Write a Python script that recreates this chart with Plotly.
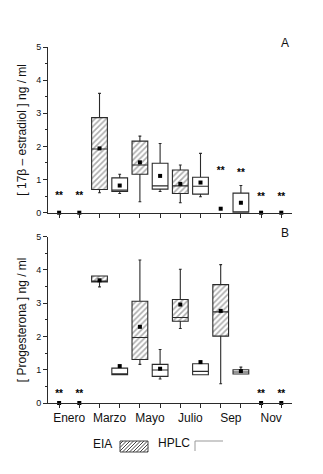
import plotly.graph_objects as go
from plotly.subplots import make_subplots

# ---------------- data ----------------
positions = list(range(1, 13))
label_positions = [1.5, 3.5, 5.5, 7.5, 9.5, 11.5]
month_labels = ["Enero", "Marzo", "Mayo", "Julio", "Sep", "Nov"]

# Panel A: 17beta-estradiol
a_eia_x = [3, 5, 7]
a_eia_q1 = [0.70, 1.16, 0.58]
a_eia_med = [1.92, 1.44, 0.81]
a_eia_q3 = [2.87, 2.16, 1.29]
a_eia_lo = [0.60, 0.33, 0.30]
a_eia_hi = [3.60, 2.31, 1.44]
a_eia_mean = [1.94, 1.52, 0.87]

a_hplc_x = [4, 6, 8, 10]
a_hplc_q1 = [0.64, 0.71, 0.56, 0.0]
a_hplc_med = [0.68, 0.81, 0.80, 0.0]
a_hplc_q3 = [1.05, 1.49, 1.07, 0.59]
a_hplc_lo = [0.58, 0.64, 0.48, 0.0]
a_hplc_hi = [1.16, 2.09, 1.79, 0.82]
a_hplc_mean = [0.82, 1.11, 0.91, 0.30]

a_point_x = [1, 2, 9, 11, 12]
a_point_y = [0.0, 0.0, 0.12, 0.0, 0.0]
a_star_x = [1, 2, 9, 10, 11, 12]
a_star_y = [0.48, 0.48, 1.23, 1.18, 0.45, 0.45]

# Panel B: progesterona
b_eia_x = [3, 5, 7, 9]
b_eia_q1 = [3.64, 1.31, 2.46, 2.01]
b_eia_med = [3.66, 1.97, 2.57, 2.74]
b_eia_q3 = [3.82, 3.06, 3.11, 3.56]
b_eia_lo = [3.49, 1.16, 2.24, 0.58]
b_eia_hi = [3.82, 4.30, 4.02, 4.16]
b_eia_mean = [3.69, 2.29, 2.96, 2.77]

b_hplc_x = [4, 6, 8, 10]
b_hplc_q1 = [0.85, 0.80, 0.85, 0.87]
b_hplc_med = [0.87, 0.99, 0.95, 0.93]
b_hplc_q3 = [1.05, 1.16, 1.18, 1.00]
b_hplc_lo = [0.85, 0.72, 0.85, 0.87]
b_hplc_hi = [1.05, 1.61, 1.18, 1.08]
b_hplc_mean = [1.11, 1.03, 1.23, 0.96]

b_point_x = [1, 2, 11, 12]
b_point_y = [0.0, 0.0, 0.0, 0.0]
b_star_x = [1, 2, 11, 12]
b_star_y = [0.26, 0.26, 0.26, 0.26]

# ---------------- style ----------------
FONT = "Liberation Sans, Arial, sans-serif"
DARK = "#2a2a2a"
BOXW = 0.78

W, H = 323, 474
ML, MR, MT, MB = 48, 31, 47, 71
PW, PH = W - ML - MR, H - MT - MB

fig = make_subplots(rows=2, cols=1)


def add_panel(row, ex, eq1, emed, eq3, elo, ehi, emean,
              hx, hq1, hmed, hq3, hlo, hhi, hmean, px_, py_, sx, sy):
    # hatched background for EIA boxes
    fig.add_trace(go.Bar(
        x=ex, y=[q3 - q1 for q1, q3 in zip(eq1, eq3)], base=eq1, width=BOXW,
        marker=dict(color="white",
                    pattern=dict(shape="/", size=4, solidity=0.4,
                                 fgcolor="#5a5a5a", bgcolor="white"),
                    line=dict(width=0)),
        showlegend=False, hoverinfo="skip"), row=row, col=1)
    # EIA boxes
    fig.add_trace(go.Box(
        x=ex, q1=eq1, median=emed, q3=eq3, lowerfence=elo, upperfence=ehi,
        width=BOXW, whiskerwidth=0.18, fillcolor="rgba(0,0,0,0)",
        line=dict(color=DARK, width=1.1), boxpoints=False,
        showlegend=False), row=row, col=1)
    # HPLC boxes
    fig.add_trace(go.Box(
        x=hx, q1=hq1, median=hmed, q3=hq3, lowerfence=hlo, upperfence=hhi,
        width=BOXW, whiskerwidth=0.18, fillcolor="white",
        line=dict(color=DARK, width=1.1), boxpoints=False,
        showlegend=False), row=row, col=1)
    # means
    fig.add_trace(go.Scatter(
        x=ex + hx + px_, y=emean + hmean + py_, mode="markers",
        marker=dict(symbol="square", size=4, color="black"),
        cliponaxis=False, showlegend=False), row=row, col=1)
    # significance stars
    fig.add_trace(go.Scatter(
        x=sx, y=sy, mode="text", text=["<b>**</b>"] * len(sx),
        textfont=dict(family=FONT, size=10, color="#000000"),
        textposition="middle center", cliponaxis=False,
        showlegend=False), row=row, col=1)


add_panel(1, a_eia_x, a_eia_q1, a_eia_med, a_eia_q3, a_eia_lo, a_eia_hi, a_eia_mean,
          a_hplc_x, a_hplc_q1, a_hplc_med, a_hplc_q3, a_hplc_lo, a_hplc_hi, a_hplc_mean,
          a_point_x, a_point_y, a_star_x, a_star_y)
add_panel(2, b_eia_x, b_eia_q1, b_eia_med, b_eia_q3, b_eia_lo, b_eia_hi, b_eia_mean,
          b_hplc_x, b_hplc_q1, b_hplc_med, b_hplc_q3, b_hplc_lo, b_hplc_hi, b_hplc_mean,
          b_point_x, b_point_y, b_star_x, b_star_y)

# axis domains (pixel based)
yA = [(403 - 212.7) / PH, 1.0]
yB = [0.0, (403 - 236.7) / PH]

xaxis_common = dict(
    range=[0.45, 12.53], tickmode="array", tickvals=label_positions,
    showline=True, linecolor=DARK, linewidth=1, ticks="outside", ticklen=4,
    tickcolor="rgba(0,0,0,0)", showgrid=False, zeroline=False,
    tickfont=dict(family=FONT, size=12, color="#111"), domain=[0, 1],
    minor=dict(tickvals=positions, ticks="outside", ticklen=4,
               tickcolor=DARK, showgrid=False))
yaxis_common = dict(
    range=[0, 5], tickvals=[0, 1, 2, 3, 4, 5], showline=True, linecolor=DARK,
    linewidth=1, ticks="outside", ticklen=4, tickcolor=DARK, showgrid=False,
    zeroline=False, tickfont=dict(family=FONT, size=9, color="#111"),
    minor=dict(tickvals=[0.5, 1.5, 2.5, 3.5, 4.5], ticks="outside", ticklen=2,
               tickcolor=DARK, showgrid=False))

fig.update_xaxes(**xaxis_common)
fig.update_xaxes(ticktext=[""] * 6, row=1, col=1)
fig.update_xaxes(ticktext=month_labels, row=2, col=1)
fig.update_yaxes(**yaxis_common)
fig.update_yaxes(domain=yA, row=1, col=1,
                 title=dict(text="[ 17β – estradiol ] ng / ml",
                            font=dict(family=FONT, size=12, color="#111"), standoff=6))
fig.update_yaxes(domain=yB, row=2, col=1,
                 title=dict(text="[ Progesterona ] ng / ml",
                            font=dict(family=FONT, size=12, color="#111"), standoff=6))


def px2paper(x, y):
    return (x - ML) / PW, (H - MB - y) / PH


shapes = []
annotations = []

# panel letters
for letter, (lx, ly) in (("A", (285, 43)), ("B", (285, 233))):
    ax_, ay_ = px2paper(lx, ly)
    annotations.append(dict(x=ax_, y=ay_, xref="paper", yref="paper", text=letter,
                            showarrow=False, font=dict(family=FONT, size=12, color="#111"),
                            xanchor="center", yanchor="middle"))

# legend: EIA [hatched]  HPLC [open]
for label, (lx, ly) in (("EIA", (102, 444)), ("HPLC", (174, 443))):
    ax_, ay_ = px2paper(lx, ly)
    annotations.append(dict(x=ax_, y=ay_, xref="paper", yref="paper", text=label,
                            showarrow=False, font=dict(family=FONT, size=12, color="#111"),
                            xanchor="center", yanchor="middle"))

# hatched legend swatch
rx0, ry0, rx1, ry1 = 120, 441, 148, 452
p0 = px2paper(rx0, ry0)
p1 = px2paper(rx1, ry1)
k = rx0 + ry0 + 3
while k < rx1 + ry1:
    xa = max(rx0, k - ry1)
    xb = min(rx1, k - ry0)
    if xb > xa:
        a = px2paper(xa, k - xa)
        b = px2paper(xb, k - xb)
        shapes.append(dict(type="line", xref="paper", yref="paper",
                           x0=a[0], y0=a[1], x1=b[0], y1=b[1],
                           line=dict(color="#444", width=1)))
    k += 3.5
shapes.append(dict(type="rect", xref="paper", yref="paper",
                   x0=p0[0], y0=p0[1], x1=p1[0], y1=p1[1],
                   line=dict(color="#444", width=1)))

# open legend swatch (top and left edges)
q0 = px2paper(195, 441)
q1 = px2paper(223, 451)
shapes.append(dict(type="line", xref="paper", yref="paper",
                   x0=q0[0], y0=q0[1], x1=q1[0], y1=q0[1],
                   line=dict(color="#999", width=1)))
shapes.append(dict(type="line", xref="paper", yref="paper",
                   x0=q0[0], y0=q0[1], x1=q0[0], y1=q1[1],
                   line=dict(color="#999", width=1)))

fig.update_layout(
    width=W, height=H, margin=dict(l=ML, r=MR, t=MT, b=MB, autoexpand=False),
    paper_bgcolor="white", plot_bgcolor="white",
    barmode="overlay", boxmode="overlay", showlegend=False,
    font=dict(family=FONT, color="#111"),
    shapes=shapes, annotations=annotations)

fig.write_html("out.html", config={"displayModeBar": False},
               post_script="document.body.style.margin='0px';"
                           "document.body.style.overflow='hidden';")
